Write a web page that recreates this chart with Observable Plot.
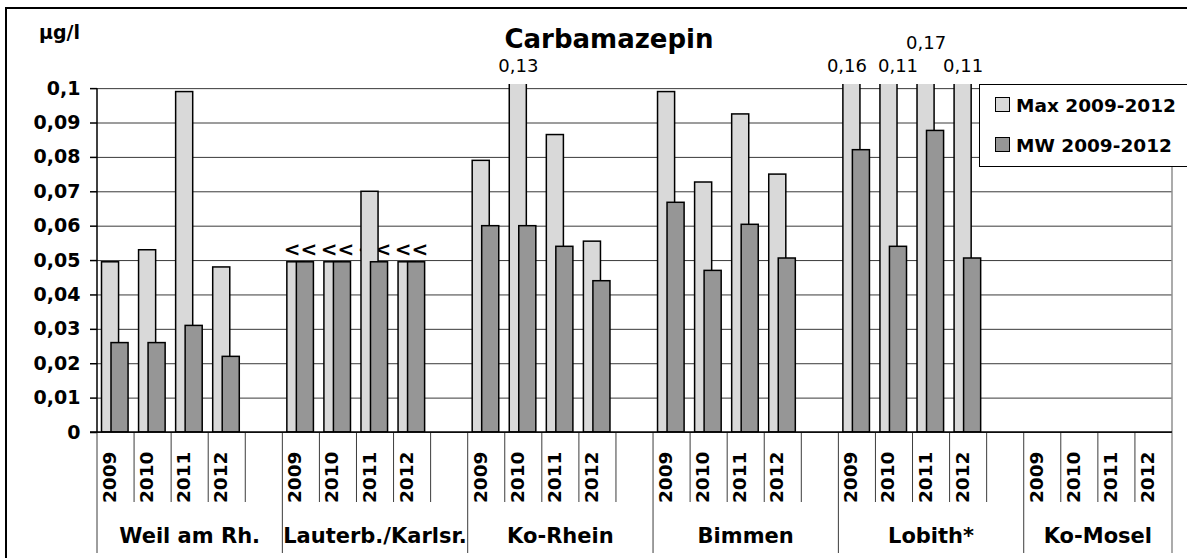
<!DOCTYPE html>
<html>
<head>
<meta charset="utf-8">
<script src="https://cdn.jsdelivr.net/npm/d3@7"></script>
<script src="https://cdn.jsdelivr.net/npm/@observablehq/plot@0.6"></script>
<style>
  html, body { margin: 0; padding: 0; background: #fff; }
  #chart { width: 1187px; height: 558px; overflow: hidden; }
  #chart svg { font-family: "DejaVu Sans", "Liberation Sans", Arial, sans-serif; background: #fff; }
</style>
</head>
<body>
<div id="chart"></div>
<script>
// ---------- data ----------
const title = "Carbamazepin";
const unit = "µg/l";
const groups = ["Weil am Rh.", "Lauterb./Karlsr.", "Ko-Rhein", "Bimmen", "Lobith*", "Ko-Mosel"];
const years = ["2009", "2010", "2011", "2012"];
const seriesNames = ["Max 2009-2012", "MW 2009-2012"];
const maxValues = [
  [0.0495, 0.053, 0.099, 0.048],
  [0.0495, 0.0495, 0.070, 0.0495],
  [0.079, 0.13, 0.0865, 0.0555],
  [0.099, 0.0727, 0.0925, 0.075],
  [0.16, 0.11, 0.17, 0.11],
  [null, null, null, null]
];
const mwValues = [
  [0.026, 0.026, 0.031, 0.022],
  [0.0495, 0.0495, 0.0495, 0.0495],
  [0.060, 0.060, 0.054, 0.044],
  [0.0668, 0.047, 0.0604, 0.0506],
  [0.0821, 0.054, 0.0877, 0.0506],
  [null, null, null, null]
];
// values below the limit of quantification ("<<")
const belowLimitGroups = ["Lauterb./Karlsr."];
const belowLimitMark = "<<";
const yTicks = [0, 0.01, 0.02, 0.03, 0.04, 0.05, 0.06, 0.07, 0.08, 0.09, 0.1];
const yMax = 0.1;

// ---------- styles ----------
const colors = { max: "#d9d9d9", mw: "#969696" };
// label nudges (pixels) for the clipped-bar value labels, as in the original
const labelNudge = { "Lobith*|2009": [-5, 0], "Lobith*|2010": [9, 0], "Lobith*|2011": [0, -23] };

// ---------- derived tables ----------
const slots = [];
groups.forEach((g, gi) => {
  years.forEach(y => slots.push({ group: g, year: y, key: g + "|" + y, first: false }));
  if (gi < groups.length - 1) slots.push({ group: g, year: "", key: g + "|", first: false });
});
groups.forEach(g => { slots.find(s => s.group === g).first = true; });
const keys = slots.map(s => s.key);

const rows = [];
groups.forEach((g, gi) => years.forEach((y, yi) => {
  rows.push({ key: g + "|" + y, group: g, year: y, series: seriesNames[0], value: maxValues[gi][yi] });
  rows.push({ key: g + "|" + y, group: g, year: y, series: seriesNames[1], value: mwValues[gi][yi] });
}));
const maxRows = rows.filter(r => r.series === seriesNames[0] && r.value != null);
const mwRows = rows.filter(r => r.series === seriesNames[1] && r.value != null);
const overRows = maxRows.filter(r => r.value > yMax);
const limitRows = mwRows.filter(r => belowLimitGroups.includes(r.group));
const yearSlots = slots.filter(s => s.year !== "");

const fmt = d => d === 0 ? "0" : String(+d.toFixed(3)).replace(".", ",");

// ---------- decorations drawn with the plot's scales ----------
function decorations(index, scales, values, dims) {
  const x = scales.x, y = scales.y;
  const bw = typeof x.bandwidth === "function" ? x.bandwidth() : (x(keys[1]) - x(keys[0]));
  const left = dims.marginLeft, right = dims.width - dims.marginRight;
  const y0 = y(0), yTop = y(yMax);
  const g = d3.create("svg:g");

  // category tick lines
  slots.forEach(s => {
    const xb = x(s.key);
    g.append("line").attr("x1", xb).attr("x2", xb).attr("y1", y0).attr("y2", y0 + (s.first ? 121 : 70))
      .attr("stroke", "#3c3c3c").attr("stroke-width", 1);
  });
  // right border of plot area
  g.append("line").attr("x1", right).attr("x2", right).attr("y1", yTop).attr("y2", y0 + 121)
    .attr("stroke", "#8f8f8f").attr("stroke-width", 1.5);
  // left axis line
  g.append("line").attr("x1", left).attr("x2", left).attr("y1", yTop).attr("y2", y0)
    .attr("stroke", "#000").attr("stroke-width", 1.5);
  // bottom axis line
  g.append("line").attr("x1", left - 7).attr("x2", right).attr("y1", y0).attr("y2", y0)
    .attr("stroke", "#000").attr("stroke-width", 1.5);

  // group labels
  groups.forEach(gr => {
    const gs = slots.filter(s => s.group === gr);
    const a = x(gs[0].key), b = x(gs[gs.length - 1].key) + bw;
    g.append("text").attr("x", (a + b) / 2).attr("y", y0 + 111)
      .attr("text-anchor", "middle").attr("font-size", 21).attr("font-weight", "bold")
      .attr("fill", "#000").text(gr);
  });

  // outer chart border (left and top visible)
  g.append("path").attr("d", `M6,${dims.height} V8 H${dims.width}`)
    .attr("fill", "none").attr("stroke", "#000").attr("stroke-width", 2);

  // title and unit
  g.append("text").attr("x", 609).attr("y", 48).attr("text-anchor", "middle")
    .attr("font-size", 26).attr("font-weight", "bold").attr("fill", "#000").text(title);
  g.append("text").attr("x", 39).attr("y", 39).attr("text-anchor", "start")
    .attr("font-size", 19).attr("font-weight", "bold").attr("fill", "#000").text(unit);

  // legend
  const lg = g.append("g");
  lg.append("rect").attr("x", 979.5).attr("y", 84.5).attr("width", 230).attr("height", 82)
    .attr("fill", "#fff").attr("stroke", "#000").attr("stroke-width", 1);
  [colors.max, colors.mw].forEach((c, i) => {
    const cy = 104.5 + i * 40;
    lg.append("rect").attr("x", 995.5).attr("y", cy - 7).attr("width", 14).attr("height", 14)
      .attr("fill", c).attr("stroke", "#000").attr("stroke-width", 1);
    lg.append("text").attr("x", 1016).attr("y", cy + 7.5).attr("text-anchor", "start")
      .attr("font-size", 18.5).attr("font-weight", "bold").attr("fill", "#000").text(seriesNames[i]);
  });
  return g.node();
}

const overLabelMarks = overRows.map(r => {
  const n = labelNudge[r.key] || [0, 0];
  return Plot.text([r], {
    x: "key", frameAnchor: "top", lineAnchor: "middle", text: d => fmt(d.value),
    dx: -5.5 + n[0], dy: -18 + n[1], fontSize: 18, fill: "#000"
  });
});

const chart = Plot.plot({
  width: 1187,
  height: 558,
  marginLeft: 97,
  marginRight: 15,
  marginTop: 84,
  marginBottom: 126,
  style: { fontFamily: "DejaVu Sans, Liberation Sans, Arial, sans-serif", background: "#fff", overflow: "visible" },
  x: { type: "band", domain: keys, padding: 0, round: false, axis: null },
  y: { domain: [0, 0.1012], axis: null },
  marks: [
    Plot.ruleY(yTicks, { stroke: "#3a3a3a", strokeWidth: 1 }),
    Plot.text(limitRows, {
      x: "key", y: "value", text: () => belowLimitMark, dy: -13, dx: -1,
      fontSize: 20, fontWeight: "bold", fill: "#000"
    }),
    Plot.barY(maxRows, {
      x: "key", y: "value", fill: colors.max, stroke: "#000", strokeWidth: 1.5,
      insetLeft: 4.5, insetRight: 15.5, clip: true
    }),
    Plot.barY(mwRows, {
      x: "key", y: "value", fill: colors.mw, stroke: "#000", strokeWidth: 1.5,
      insetLeft: 14, insetRight: 6, clip: true
    }),
    ...overLabelMarks,
    Plot.axisY({
      ticks: yTicks, tickFormat: fmt, tickSize: 7, tickPadding: 10, label: null,
      fontSize: 19, fontWeight: "bold", stroke: "#000", strokeWidth: 1.5, fill: "#000", anchor: "left"
    }),
    Plot.text(yearSlots, {
      x: "key", text: "year", frameAnchor: "bottom", rotate: -90, textAnchor: "end",
      dy: 19, fontSize: 18.5, fontWeight: "bold", fill: "#000"
    }),
    decorations
  ]
});
document.getElementById("chart").appendChild(chart);
</script>
</body>
</html>
